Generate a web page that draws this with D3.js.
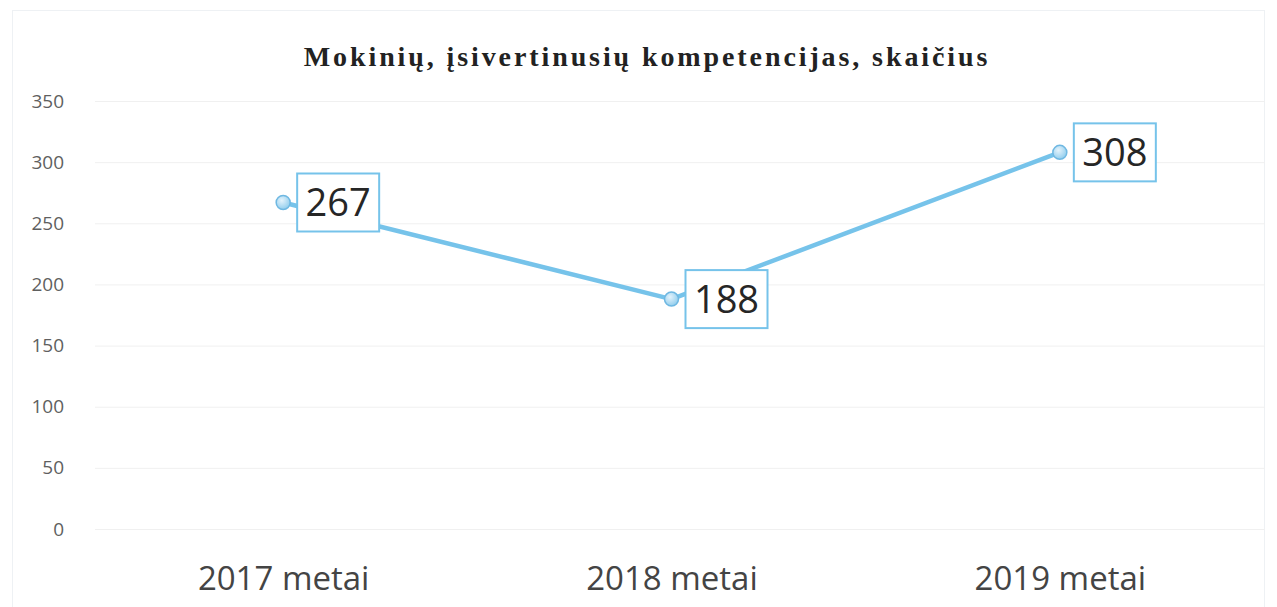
<!DOCTYPE html>
<html>
<head>
<meta charset="utf-8">
<script src="https://cdn.jsdelivr.net/npm/d3@7.9.0/dist/d3.min.js"></script>
<style>
  html, body { margin: 0; padding: 0; background: #fff; }
  svg { display: block; }
</style>
</head>
<body>
<svg id="chart" width="1277" height="607"></svg>
<script>
/* ---------- Data ---------- */
const years = ["2017 metai", "2018 metai", "2019 metai"];
const counts = [267, 188, 308];
const yTicks = [0, 50, 100, 150, 200, 250, 300, 350];
const title = "Mokinių, įsivertinusių kompetencijas, skaičius";

/* ---------- Setup ---------- */
const svg = d3.select('#chart');
const W = 1277, H = 607;
const lineColor = '#76c3ea';

const x = d3.scalePoint().domain(years).range([89, 1254]).padding(0.5);
const y = d3.scaleLinear().domain([0, 350]).range([529, 101]);

// faint outer border of the chart area
svg.append('rect')
  .attr('x', 12.5).attr('y', 10.5)
  .attr('width', W - 25).attr('height', H - 10)
  .attr('fill', 'none').attr('stroke', '#eef1f4').attr('stroke-width', 1);

// title (condensed bold serif, spaced out)
svg.append('text')
  .attr('x', 647).attr('y', 66)
  .attr('text-anchor', 'middle')
  .attr('font-family', '"Liberation Serif", "Times New Roman", serif')
  .attr('font-weight', 'bold')
  .attr('font-size', 28)
  .attr('letter-spacing', 2.9)
  .attr('fill', '#222')
  .text(title);

/* ---------- Grid + y axis ---------- */
const yAxis = d3.axisLeft(y).tickValues(yTicks).tickSize(0).tickPadding(0);
const gy = svg.append('g').attr('transform', 'translate(64,0)').call(yAxis);
gy.select('.domain').remove();
gy.selectAll('text')
  .attr('font-family', '"Open Sans", Calibri, sans-serif')
  .attr('font-size', 19)
  .attr('fill', '#5f5f5f');

svg.append('g')
  .selectAll('line')
  .data(yTicks)
  .join('line')
  .attr('x1', 95).attr('x2', 1265)
  .attr('y1', d => y(d) + 0.5).attr('y2', d => y(d) + 0.5)
  .attr('stroke', '#f0f0f0').attr('stroke-width', 1);

/* ---------- x axis labels ---------- */
const xAxis = d3.axisBottom(x).tickSize(0).tickPadding(0);
const gx = svg.append('g').attr('transform', 'translate(0,567)').call(xAxis);
gx.select('.domain').remove();
gx.selectAll('text')
  .attr('font-family', '"Open Sans", Calibri, sans-serif')
  .attr('font-size', 33)
  .attr('fill', '#444');

/* ---------- Line + markers ---------- */
const pts = years.map((c, i) => ({ c, v: counts[i] }));

svg.append('path')
  .datum(pts)
  .attr('fill', 'none')
  .attr('stroke', lineColor)
  .attr('stroke-width', 4.5)
  .attr('stroke-linejoin', 'round')
  .attr('d', d3.line().x(d => x(d.c)).y(d => y(d.v)));

const defs = svg.append('defs');
const grad = defs.append('radialGradient').attr('id', 'dot').attr('cx', '40%').attr('cy', '35%').attr('r', '70%');
grad.append('stop').attr('offset', '0%').attr('stop-color', '#e4f3fc');
grad.append('stop').attr('offset', '100%').attr('stop-color', '#8ccbec');

svg.append('g')
  .selectAll('circle')
  .data(pts)
  .join('circle')
  .attr('cx', d => x(d.c))
  .attr('cy', d => y(d.v))
  .attr('r', 7)
  .attr('fill', 'url(#dot)')
  .attr('stroke', '#6fb8e2')
  .attr('stroke-width', 1.5);

/* ---------- Data labels ---------- */
const boxW = 82, boxH = 58;
const lbl = svg.append('g')
  .selectAll('g')
  .data(pts)
  .join('g')
  .attr('transform', d => `translate(${x(d.c) + 14},${y(d.v) - boxH / 2})`);

lbl.append('rect')
  .attr('width', boxW).attr('height', boxH)
  .attr('fill', '#fff')
  .attr('stroke', lineColor)
  .attr('stroke-width', 2);

lbl.append('text')
  .attr('x', boxW / 2).attr('y', boxH / 2 + 14)
  .attr('text-anchor', 'middle')
  .attr('font-family', '"Open Sans", Calibri, sans-serif')
  .attr('font-size', 38)
  .attr('fill', '#262626')
  .text(d => d.v);
</script>
</body>
</html>
